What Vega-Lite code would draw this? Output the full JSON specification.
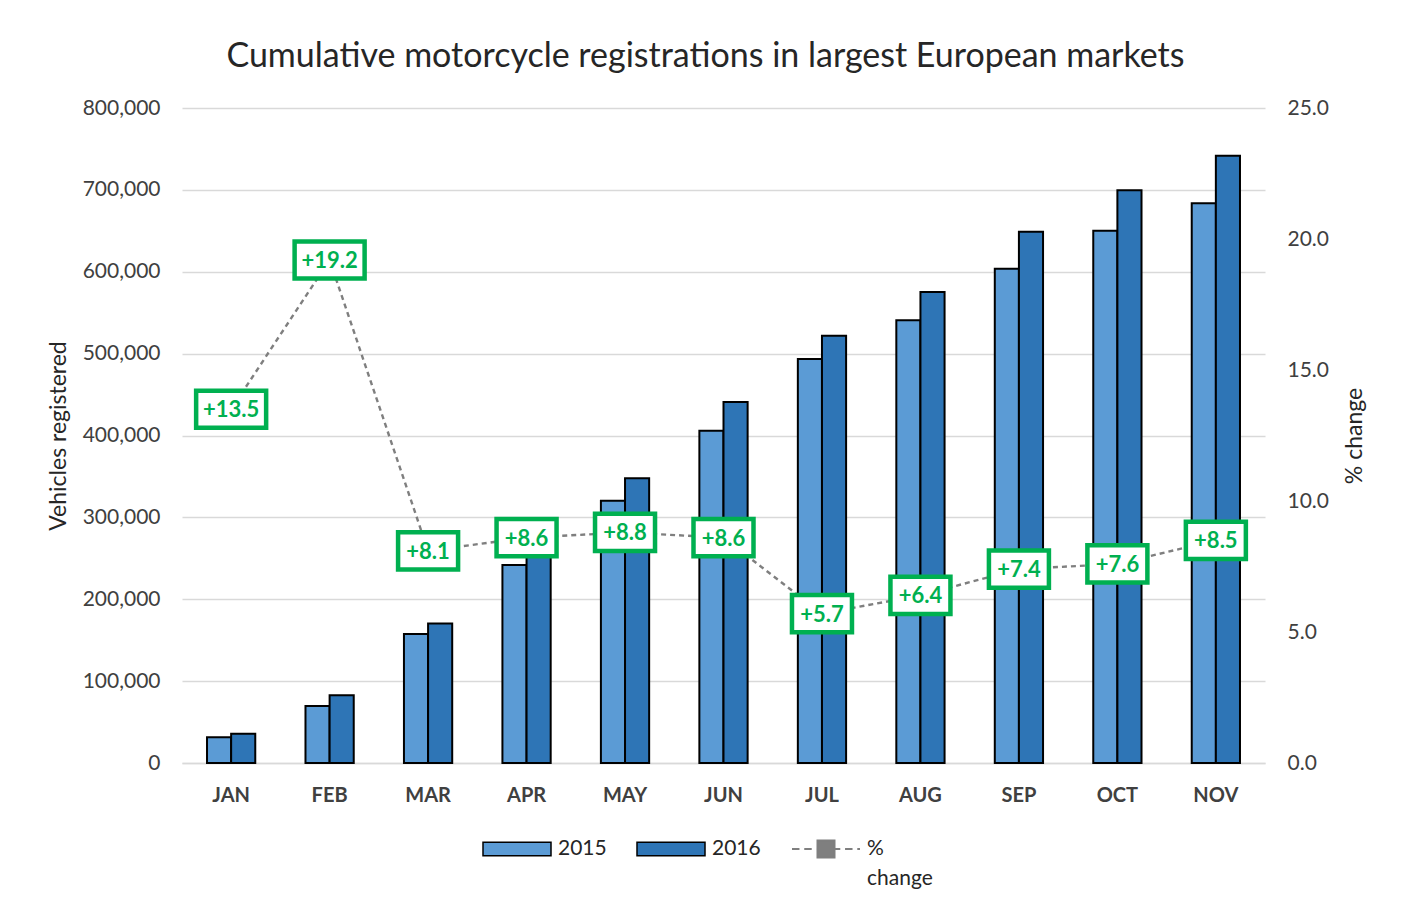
{
  "$schema": "https://vega.github.io/schema/vega-lite/v6.json",
  "width": 1083,
  "height": 655,
  "autosize": {"type": "none"},
  "padding": {"left": 182, "top": 108, "right": 142, "bottom": 148},
  "background": "white",
  "title": {
    "text": "Cumulative motorcycle registrations in largest European markets",
    "font": "Lato",
    "fontSize": 34,
    "fontWeight": "normal",
    "color": "#262626",
    "anchor": "middle",
    "dx": -18,
    "offset": 23
  },
  "config": {
    "font": "Lato",
    "view": {"stroke": null},
    "axis": {"labelFont": "Lato", "titleFont": "Lato", "labelColor": "#404040", "titleColor": "#262626"}
  },
  "datasets": {
    "bars": [
      {"month": "JAN", "year": "2015", "value": 31400},
      {"month": "JAN", "year": "2016", "value": 35800},
      {"month": "FEB", "year": "2015", "value": 69600},
      {"month": "FEB", "year": "2016", "value": 82800},
      {"month": "MAR", "year": "2015", "value": 157600},
      {"month": "MAR", "year": "2016", "value": 170300},
      {"month": "APR", "year": "2015", "value": 241800},
      {"month": "APR", "year": "2016", "value": 262600},
      {"month": "MAY", "year": "2015", "value": 320400},
      {"month": "MAY", "year": "2016", "value": 347700},
      {"month": "JUN", "year": "2015", "value": 405900},
      {"month": "JUN", "year": "2016", "value": 440900},
      {"month": "JUL", "year": "2015", "value": 493400},
      {"month": "JUL", "year": "2016", "value": 521900},
      {"month": "AUG", "year": "2015", "value": 540700},
      {"month": "AUG", "year": "2016", "value": 575300},
      {"month": "SEP", "year": "2015", "value": 603700},
      {"month": "SEP", "year": "2016", "value": 649000},
      {"month": "OCT", "year": "2015", "value": 650200},
      {"month": "OCT", "year": "2016", "value": 699500},
      {"month": "NOV", "year": "2015", "value": 683600},
      {"month": "NOV", "year": "2016", "value": 741800}
    ],
    "pct": [
      {"month": "JAN", "pct": 13.5},
      {"month": "FEB", "pct": 19.2},
      {"month": "MAR", "pct": 8.1},
      {"month": "APR", "pct": 8.6},
      {"month": "MAY", "pct": 8.8},
      {"month": "JUN", "pct": 8.6},
      {"month": "JUL", "pct": 5.7},
      {"month": "AUG", "pct": 6.4},
      {"month": "SEP", "pct": 7.4},
      {"month": "OCT", "pct": 7.6},
      {"month": "NOV", "pct": 8.5}
    ]
  },
  "encoding": {
    "x": {
      "field": "month",
      "type": "nominal",
      "sort": ["JAN","FEB","MAR","APR","MAY","JUN","JUL","AUG","SEP","OCT","NOV"],
      "scale": {"paddingInner": 0.51, "paddingOuter": 0.254},
      "axis": {
        "title": null,
        "labelAngle": 0,
        "labelFontSize": 20,
        "labelFontWeight": "bold",
        "labelPadding": 22,
        "ticks": false,
        "domainColor": "#D9D9D9",
        "domainWidth": 1.5
      }
    }
  },
  "layer": [
    {
      "data": {"name": "bars"},
      "mark": {"type": "bar", "stroke": "black", "strokeWidth": 2},
      "encoding": {
        "xOffset": {"field": "year", "type": "nominal", "scale": {"paddingInner": 0, "paddingOuter": 0}},
        "y": {
          "field": "value",
          "type": "quantitative",
          "scale": {"domain": [0, 800000], "nice": false},
          "axis": {
            "title": "Vehicles registered",
            "titleFontSize": 23,
            "titleFontWeight": "normal",
            "titlePadding": 12,
            "values": [0,100000,200000,300000,400000,500000,600000,700000,800000],
            "format": ",.0f",
            "labelFontSize": 21,
            "labelPadding": 22,
            "ticks": false,
            "domain": false,
            "gridColor": "#D9D9D9",
            "gridWidth": 1.5
          }
        },
        "fill": {
          "field": "year",
          "type": "nominal",
          "scale": {"domain": ["2015", "2016"], "range": ["#5B9BD5", "#2E75B6"]},
          "legend": {
            "title": null,
            "orient": "none",
            "direction": "horizontal",
            "legendX": 300,
            "legendY": 706,
            "symbolType": "M-1,-0.2H1V0.2H-1Z",
            "symbolSize": 4624,
            "symbolStrokeColor": "black",
            "symbolStrokeWidth": 1.5,
            "symbolOpacity": 1,
            "labelFontSize": 21,
            "labelColor": "#262626",
            "labelOffset": 6,
            "columnPadding": 27
          }
        }
      }
    },
    {
      "data": {"name": "pct"},
      "layer": [
        {
          "mark": {"type": "line", "strokeDash": [5, 4], "strokeWidth": 2.4},
          "encoding": {
            "y": {
              "field": "pct",
              "type": "quantitative",
              "scale": {"domain": [0, 25], "nice": false},
              "axis": {
                "orient": "right",
                "title": "% change",
                "titleAngle": 270,
                "titleFontSize": 23,
                "titleFontWeight": "normal",
                "titlePadding": 38,
                "values": [0, 5, 10, 15, 20, 25],
                "format": ".1f",
                "labelFontSize": 21,
                "labelPadding": 22,
                "ticks": false,
                "domain": false,
                "grid": false
              }
            },
            "stroke": {
              "datum": "% change",
              "type": "nominal",
              "scale": {"range": ["#7F7F7F"]},
              "legend": {
                "title": null,
                "orient": "none",
                "legendX": 609,
                "legendY": 706,
                "symbolType": "M-1,0H-0.78M-0.64,0H-0.42M-0.28,0H-0.25M-0.25,-0.25H0.25V0.25H-0.25ZM0.28,0H0.42M0.56,0H0.78M0.92,0H1",
                "symbolSize": 4624,
                "symbolFillColor": "#7F7F7F",
                "symbolStrokeColor": "#7F7F7F",
                "symbolStrokeWidth": 2,
                "symbolOpacity": 1,
                "labelFontSize": 21,
                "labelColor": "#262626",
                "labelOffset": 6,
                "labelExpr": "['%', 'change']",
                "labelBaseline": "top",
                "encode": {"labels": {"update": {"dy": {"value": -11}, "lineHeight": {"value": 30}}}}
              }
            }
          }
        },
        {
          "mark": {"type": "point", "filled": true, "fill": "white", "stroke": "#00B050", "strokeWidth": 4.5, "opacity": 1, "fillOpacity": 1, "strokeOpacity": 1},
          "encoding": {
            "y": {"field": "pct", "type": "quantitative"},
            "shape": {
              "condition": {"test": "datum.pct >= 10", "value": "M-1,-0.53H1V0.53H-1Z"},
              "value": "M-1,-0.62H1V0.62H-1Z"
            },
            "size": {
              "condition": {"test": "datum.pct >= 10", "value": 4900},
              "value": 3600
            }
          }
        },
        {
          "mark": {"type": "text", "font": "Lato", "fontSize": 22, "fontWeight": "bold", "color": "#00B050", "align": "center", "baseline": "middle", "dy": 1},
          "encoding": {
            "y": {"field": "pct", "type": "quantitative"},
            "text": {"field": "pct", "type": "quantitative", "format": "+.1f"}
          }
        }
      ]
    }
  ],
  "resolve": {"scale": {"y": "independent"}}
}
